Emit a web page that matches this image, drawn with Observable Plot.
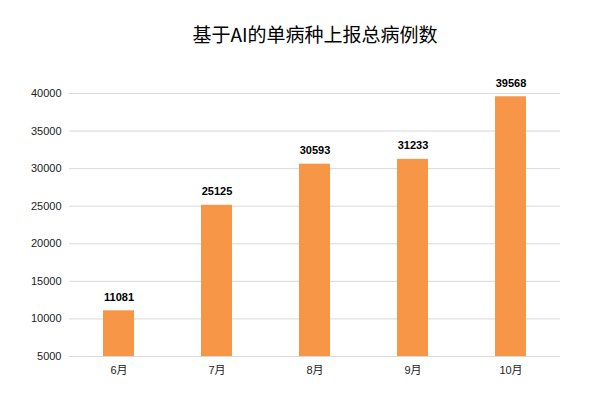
<!DOCTYPE html>
<html>
<head>
<meta charset="utf-8">
<script src="https://cdn.jsdelivr.net/npm/d3@7"></script>
<script src="https://cdn.jsdelivr.net/npm/@observablehq/plot@0.6"></script>
<style>
  html, body { margin: 0; padding: 0; background: #fff; }
</style>
</head>
<body>
<div id="chart"></div>
<script>
const title = "基于AI的单病种上报总病例数";
const months = ["6月", "7月", "8月", "9月", "10月"];
const cases = [11081, 25125, 30593, 31233, 39568];
const yTicks = [5000, 10000, 15000, 20000, 25000, 30000, 35000, 40000];

const data = months.map((m, i) => ({month: m, value: cases[i]}));

const chart = Plot.plot({
  width: 611,
  height: 397,
  marginLeft: 69,
  marginRight: 51,
  marginTop: 93,
  marginBottom: 41,
  style: {fontFamily: "'Liberation Sans', Arial, 'Noto Sans CJK SC', sans-serif", fontSize: "11px", color: "#222", background: "#fff"},
  x: {domain: months, paddingInner: 0.68, paddingOuter: 0.34, label: null, tickSize: 0, tickPadding: 10},
  y: {domain: [5000, 40000], ticks: yTicks, label: null, tickSize: 0, tickPadding: 8, tickFormat: d => String(d)},
  marks: [
    Plot.ruleY(yTicks, {stroke: "#d9d9d9", strokeWidth: 1}),
    Plot.barY(data, {x: "month", y1: 5000, y2: "value", fill: "#F79646"}),
    Plot.text(data, {x: "month", y: "value", text: d => String(d.value), lineAnchor: "bottom", dy: -10, fontWeight: "bold", fontSize: 11, fill: "#000"}),
    Plot.text([title], {frameAnchor: "top", dy: -58, lineAnchor: "middle", text: d => d, fontSize: 19, fill: "#000", fontFamily: "'Noto Sans CJK SC', sans-serif"})
  ]
});
document.getElementById("chart").appendChild(chart);
</script>
</body>
</html>
